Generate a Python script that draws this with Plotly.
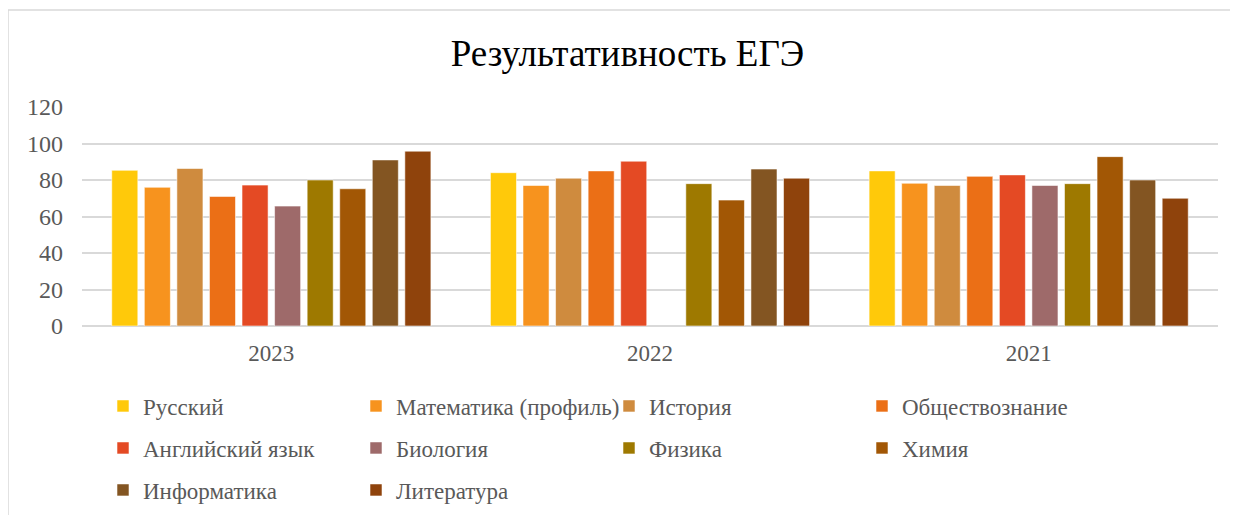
import plotly.graph_objects as go

categories = ["2023", "2022", "2021"]
subjects = ["Русский", "Математика (профиль)", "История", "Обществознание",
            "Английский язык", "Биология", "Физика", "Химия", "Информатика", "Литература"]
colors = ["#FFC90A", "#F7931E", "#CF8B3E", "#EB6F16", "#E44A24",
          "#9E6A6A", "#9E7900", "#A25705", "#835522", "#8F430C"]

russian = [85.3, 84.0, 85.0]
math_prof = [76.0, 77.0, 78.2]
history = [86.3, 81.0, 77.0]
social = [71.0, 85.0, 82.0]
english = [77.2, 90.3, 82.8]
biology = [65.7, None, 77.0]
physics = [80.0, 78.0, 78.0]
chemistry = [75.2, 69.0, 92.8]
informatics = [91.0, 86.0, 80.0]
literature = [95.8, 81.0, 70.0]

series = [russian, math_prof, history, social, english,
          biology, physics, chemistry, informatics, literature]
legend_rows = ["legend", "legend", "legend", "legend",
               "legend2", "legend2", "legend2", "legend2",
               "legend3", "legend3"]

y_ticks = [0, 20, 40, 60, 80, 100, 120]

# page offset of the default HTML body margin
OFF = 8
W, H = 1238 - OFF, 515 - OFF
L, R, T, B = 82 - OFF, 20, 107 - OFF, 189
pw, ph = W - L - R, H - T - B

def px_x(x):
    return (x - OFF - L) / pw

def px_y(y):
    return (H - B - (y - OFF)) / ph

fig = go.Figure()
for name, vals, col, lg in zip(subjects, series, colors, legend_rows):
    fig.add_trace(go.Bar(
        x=categories, y=vals, name=name, legend=lg,
        marker=dict(color=col, line=dict(color="rgba(255,255,255,0.55)", width=1)),
    ))

font_family = "Times New Roman, Liberation Serif, serif"
legend_common = dict(
    orientation="h", xanchor="left", yanchor="middle",
    x=px_x(103), entrywidth=208, entrywidthmode="pixels",
    font=dict(family=font_family, size=23, color="#595959"),
    bgcolor="rgba(0,0,0,0)", traceorder="normal",
)

fig.update_layout(
    width=W, height=H,
    margin=dict(l=L, r=R, t=T, b=B, autoexpand=False),
    paper_bgcolor="white", plot_bgcolor="white",
    title=dict(text="Результативность ЕГЭ", x=(627.5 - OFF) / W, xanchor="center",
               y=1 - (53 - OFF) / H, yanchor="middle",
               font=dict(family=font_family, size=37, color="#000000")),
    barmode="group", bargap=0.14, bargroupgap=0.2,
    showlegend=True,
    legend=dict(**legend_common, y=px_y(406)),
    legend2=dict(**legend_common, y=px_y(448)),
    legend3=dict(**legend_common, y=px_y(490)),
    xaxis=dict(showgrid=False, showline=False, ticks="", ticklabelstandoff=11,
               tickfont=dict(family=font_family, size=23, color="#595959")),
    yaxis=dict(range=[0, 120], tickvals=y_ticks, showgrid=True,
               gridcolor="#D9D9D9", gridwidth=1.5, zeroline=True,
               zerolinecolor="#D9D9D9", zerolinewidth=1.5, showline=False,
               ticks="", ticklabelstandoff=18,
               tickfont=dict(family=font_family, size=24, color="#595959")),
    shapes=[dict(type="rect", xref="paper", yref="paper",
                 x0=px_x(8), x1=px_x(1260), y0=px_y(540), y1=px_y(10),
                 line=dict(color="#D9D9D9", width=1.5), fillcolor="rgba(0,0,0,0)",
                 layer="below")],
)

fig.write_html("out.html")
